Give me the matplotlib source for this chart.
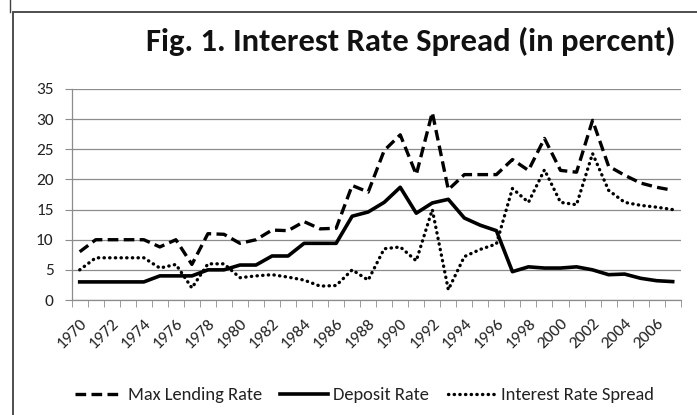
import numpy as np
import matplotlib
matplotlib.use("Agg")
import matplotlib.pyplot as plt
from matplotlib.lines import Line2D
from matplotlib.patches import Rectangle

plt.rcParams['font.family'] = ['Carlito', 'Lato', 'DejaVu Sans']

# data
years = list(range(1970, 2008))
max_lending = [8, 10, 10, 10, 10, 8.8, 10, 5.9, 11, 10.9,
               9.4, 10, 11.6, 11.5, 13, 11.8, 11.9, 19, 17.9, 24.8,
               27.4, 20.8, 31.1, 18.3, 20.8, 20.8, 20.8, 23.3, 21.5, 26.8,
               21.5, 21.2, 29.8, 22.2, 20.7, 19.4, 18.7, 18.2]
deposit = [3, 3, 3, 3, 3, 4, 4, 4, 5, 5,
           5.8, 5.8, 7.3, 7.3, 9.4, 9.4, 9.4, 13.9, 14.6, 16.2,
           18.7, 14.4, 16.1, 16.7, 13.6, 12.4, 11.5, 4.7, 5.5, 5.3,
           5.3, 5.5, 5.0, 4.2, 4.3, 3.6, 3.2, 3.05]
spread = [5, 7, 7, 7, 7, 5.3, 5.9, 2, 6, 6,
          3.7, 4, 4.2, 3.8, 3.3, 2.3, 2.4, 5, 3.3, 8.5,
          8.8, 6.5, 15, 1.7, 7.2, 8.4, 9.3, 18.5, 16.2, 21.6,
          16.2, 15.8, 24.3, 18.2, 16.2, 15.7, 15.4, 15]
yticks = [0, 5, 10, 15, 20, 25, 30, 35]
title = "Fig. 1. Interest Rate Spread (in percent)"

W, H = 697, 415
fig = plt.figure(figsize=(W / 100, H / 100), dpi=100)

# chart frame (Excel style border)
fig.patches.append(Rectangle((13 / W, -0.1), 1.2, (H - 12) / H + 0.1,
                             transform=fig.transFigure, fill=False,
                             edgecolor='#404040', linewidth=1.3))
fig.add_artist(Line2D([10 / W, 10 / W], [1, (H - 12) / H],
                      transform=fig.transFigure, color='#404040', lw=1.0))

ax = fig.add_axes([71.7 / W, 1 - 300 / H, (680.7 - 71.7) / W, (300 - 89) / H])
x = np.arange(len(years))

ax.plot(x, max_lending, color='black', lw=2.4, ls=(0, (3.2, 1.6)),
        label='Max Lending Rate', dash_capstyle='butt')
ax.plot(x, deposit, color='black', lw=2.6, label='Deposit Rate',
        solid_joinstyle='round')
ax.plot(x, spread, color='black', lw=2.4, ls=(0, (0.1, 1.6)),
        dash_capstyle='round', label='Interest Rate Spread')

ax.set_xlim(-0.5, len(years) - 0.5)
ax.set_ylim(0, 35)
ax.set_yticks(yticks)
ax.grid(axis='y', color='#8c8c8c', lw=0.9)
ax.set_axisbelow(True)
for s in ['top', 'right']:
    ax.spines[s].set_visible(False)
for s in ['left', 'bottom']:
    ax.spines[s].set_color('#8c8c8c')
    ax.spines[s].set_linewidth(0.9)

ax.tick_params(axis='y', length=5, color='#8c8c8c', labelsize=12.5,
               pad=8, labelcolor='#222222')
# category boundaries as ticks, labels on every second year
ax.set_xticks(np.arange(-0.5, len(years)), minor=True)
ax.set_xticks(x[::2])
ax.set_xticklabels([str(y) for y in years[::2]], rotation=45,
                   ha='right', va='top', rotation_mode='anchor')
ax.tick_params(axis='x', which='major', length=0, labelsize=12.5, pad=12,
               labelcolor='#222222')
ax.tick_params(axis='x', which='minor', length=5, color='#8c8c8c')

fig.text(675 / W, 1 - 41 / H, title, ha='right', va='center',
         fontsize=23.5, fontweight='bold', color='#111111')

ax.legend(loc='center', bbox_to_anchor=(364 / W, 1 - 395 / H),
          bbox_transform=fig.transFigure, ncol=3, frameon=False,
          fontsize=13.3, handlelength=2.6, handletextpad=0.27,
          columnspacing=1.0, labelcolor='#222222')

fig.savefig('out.png', dpi=100)
